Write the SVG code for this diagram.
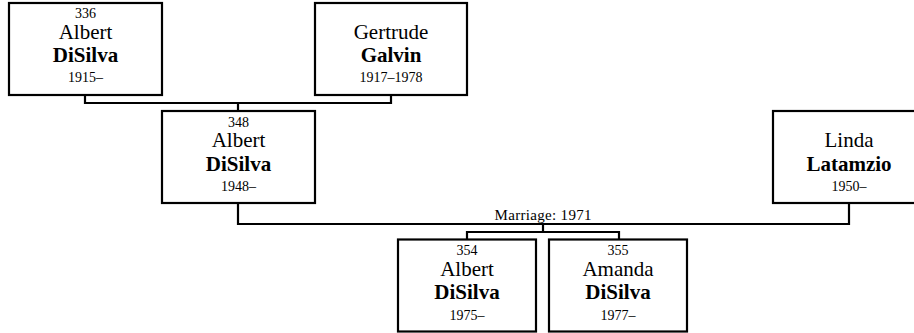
<svg xmlns="http://www.w3.org/2000/svg" width="914" height="333" viewBox="0 0 914 333">
<style>
.box{fill:#fff;stroke:#000;stroke-width:2.2}
.ln{fill:none;stroke:#000;stroke-width:2.2}
text{font-family:'Liberation Serif',serif;fill:#000;text-anchor:middle}
.sm{font-size:14px}
.nm{font-size:21px}
.sn{font-size:21px;font-weight:bold}
</style>
<rect width="914" height="333" fill="#fff"/>
<g id="connectors">
<polyline class="ln" points="85,95 85,103 391,103 391,95"/>
<line class="ln" x1="238" y1="103" x2="238" y2="111"/>
<polyline class="ln" points="238,203 238,224 849,224 849,203"/>
<line class="ln" x1="543" y1="224" x2="543" y2="232"/>
<polyline class="ln" points="467,239.5 467,232 619,232 619,239.5"/>
<text font-size="15" x="543" y="219.5" textLength="97" lengthAdjust="spacing">Marriage: 1971</text>
</g>
<g id="p336">
<rect class="box" x="9" y="3" width="153" height="92"/>
<text class="sm" x="85.5" y="18">336</text>
<text class="nm" x="85.5" y="38.5">Albert</text>
<text class="sn" x="85.5" y="62">DiSilva</text>
<text class="sm" x="85.5" y="82">1915–</text>
</g>
<g id="gertrude">
<rect class="box" x="315" y="3" width="152" height="92"/>
<text class="nm" x="391" y="39">Gertrude</text>
<text class="sn" x="391" y="62">Galvin</text>
<text class="sm" x="391" y="82">1917–1978</text>
</g>
<g id="p348">
<rect class="box" x="162" y="111" width="153" height="92"/>
<text class="sm" x="238.5" y="126.5">348</text>
<text class="nm" x="238.5" y="147">Albert</text>
<text class="sn" x="238.5" y="170.5">DiSilva</text>
<text class="sm" x="238.5" y="191">1948–</text>
</g>
<g id="linda">
<rect class="box" x="773" y="111" width="152" height="92"/>
<text class="nm" x="849" y="147">Linda</text>
<text class="sn" x="849" y="170.5">Latamzio</text>
<text class="sm" x="849" y="191">1950–</text>
</g>
<g id="p354">
<rect class="box" x="398" y="239.5" width="138" height="92"/>
<text class="sm" x="467" y="255">354</text>
<text class="nm" x="467" y="275.5">Albert</text>
<text class="sn" x="467" y="299">DiSilva</text>
<text class="sm" x="467" y="320">1975–</text>
</g>
<g id="p355">
<rect class="box" x="549" y="239.5" width="138" height="92"/>
<text class="sm" x="618" y="255">355</text>
<text class="nm" x="618" y="275.5">Amanda</text>
<text class="sn" x="618" y="299">DiSilva</text>
<text class="sm" x="618" y="320">1977–</text>
</g>
</svg>
